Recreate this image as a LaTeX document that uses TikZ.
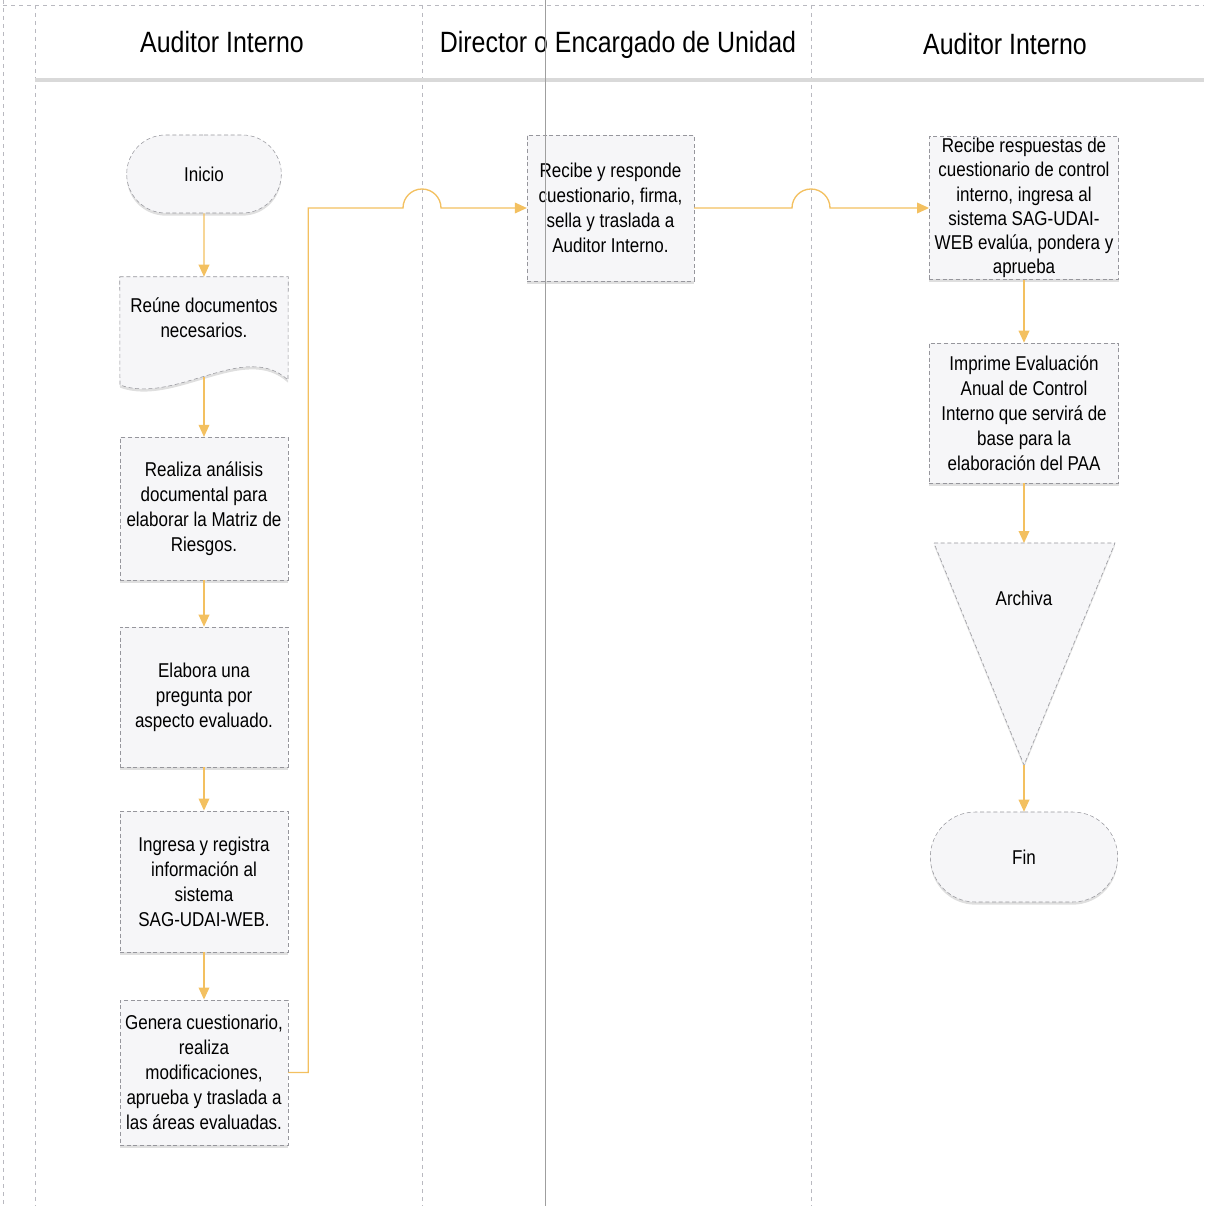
\documentclass[tikz,border=0pt]{standalone}
\usepackage{fontspec}
\setmainfont{Liberation Sans}[FakeStretch=0.85]
\usetikzlibrary{arrows.meta,shapes.misc,shadows}

\definecolor{naranja}{RGB}{243,192,96}
\definecolor{borde}{RGB}{150,150,156}
\definecolor{relleno}{RGB}{246,246,248}
\definecolor{carrilgris}{RGB}{185,185,192}

\tikzset{
  flujo/.style={draw=naranja, line width=1pt, -{Triangle[length=9pt,width=8pt]}},
  caja/.style={draw=borde, densely dashed, fill=relleno, align=center, inner sep=1pt,
    font=\fontsize{15}{18.75}\selectfont,
    drop shadow={shadow xshift=0pt, shadow yshift=-2pt, opacity=0.25, fill=gray}},
  terminal/.style={caja, rounded rectangle},
  carril/.style={draw=carrilgris, dashed, line width=0.5pt},
  titulo/.style={font=\fontsize{22}{26}\selectfont, anchor=base}
}

\begin{document}
\begin{tikzpicture}[x=0.75pt,y=0.75pt,yscale=-1,xscale=1]
\useasboundingbox (0,0) rectangle (1204,1206);

%Lanes
\draw[carril] (3,0) -- (3,1206);
\draw[carril] (3,5) -- (1204,5);
\draw[carril] (35,5) -- (35,1206);
\draw[carril] (422,5) -- (422,1206);
\draw[carril] (811,5) -- (811,1206);
\draw[draw=gray!30, line width=2.5pt] (35,80) -- (1204,80);

%Titles
\node[titulo] (tauditor1) at (222,53) {Auditor Interno};
\node[titulo] (tdirector) at (618,53) {Director o Encargado de Unidad};
\node[titulo] (tauditor2) at (1005,55) {Auditor Interno};

%Auditor Interno
\node[terminal, minimum width=118pt, minimum height=58.5pt] (inicio) at (204,174) {Inicio};
\node[minimum width=126pt, minimum height=81pt] (reune) at (204,331) {};
\draw[draw=borde, densely dashed, fill=relleno, drop shadow={shadow xshift=0pt, shadow yshift=-2pt, opacity=0.25, fill=gray}]
  (reune.north west) -- (reune.north east) -- (288,380) .. controls (245,340) and (175,405) .. (120,385) -- cycle;
\node[align=center, font=\fontsize{15}{18.75}\selectfont] (reunetxt) at (204,318) {Reúne documentos\\necesarios.};
\coordinate (reunefin) at (204,377);
\node[caja, minimum width=126pt, minimum height=107pt] (analisis) at (204,508.5) {Realiza análisis\\documental para\\elaborar la Matriz de\\Riesgos.};
\node[caja, minimum width=126pt, minimum height=105pt] (pregunta) at (204,697) {Elabora una\\pregunta por\\aspecto evaluado.};
\node[caja, minimum width=126pt, minimum height=106pt] (ingresa) at (204,881.5) {Ingresa y registra\\información al\\sistema\\SAG-UDAI-WEB.};
\node[caja, minimum width=126pt, minimum height=109pt] (genera) at (204,1072.5) {Genera cuestionario,\\realiza\\modificaciones,\\aprueba y traslada a\\las áreas evaluadas.};

%Director o Encargado de Unidad
\node[caja, minimum width=125pt, minimum height=109.5pt] (recibe) at (610.5,208) {Recibe y responde\\cuestionario, firma,\\sella y traslada a\\Auditor Interno.};

%Auditor Interno
\node[caja, minimum width=142pt, minimum height=107pt, inner sep=0pt, font=\fontsize{15}{18.2}\selectfont] (respuestas) at (1024,208) {Recibe respuestas de\\cuestionario de control\\interno, ingresa al\\sistema SAG-UDAI-\\WEB evalúa, pondera y\\aprueba};
\node[caja, minimum width=142pt, minimum height=105pt] (imprime) at (1024,413) {Imprime Evaluación\\Anual de Control\\Interno que servirá de\\base para la\\elaboración del PAA};
\coordinate (archivatop) at (1024,543);
\coordinate (archivapunta) at (1024,765);
\draw[draw=borde, densely dashed, fill=relleno, drop shadow={shadow xshift=0pt, shadow yshift=-2pt, opacity=0.25, fill=gray}]
  (934,543) -- (1115,543) -- (archivapunta) -- cycle;
\node[font=\fontsize{15}{18.75}\selectfont] (archiva) at (1024,598) {Archiva};
\node[terminal, minimum width=142.5pt, minimum height=67.5pt] (fin) at (1024,857) {Fin};

%Connectors
\draw[flujo] (inicio) -- (reune.north);
\draw[flujo] (reunefin) -- (analisis);
\draw[flujo] (analisis) -- (pregunta);
\draw[flujo] (pregunta) -- (ingresa);
\draw[flujo] (ingresa) -- (genera);
\draw[flujo] (genera.east) -- ++(20,0) |- (403,208) arc[start angle=180, end angle=360, radius=19] -- (recibe.west);
\draw[flujo] (recibe.east) -- (792,208) arc[start angle=180, end angle=360, radius=19] -- (respuestas.west);
\draw[flujo] (respuestas) -- (imprime);
\draw[flujo] (imprime) -- (archivatop);
\draw[flujo] (archivapunta) -- (fin);

%Scan line
\draw[draw=gray!75, line width=0.6pt] (545,0) -- (545,1206);

\end{tikzpicture}
\end{document}
